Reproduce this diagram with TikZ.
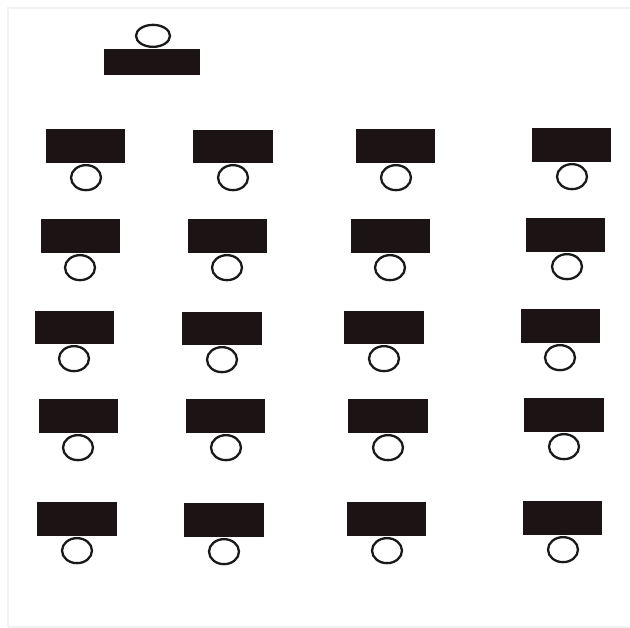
\documentclass[tikz,border=0pt]{standalone}
\usetikzlibrary{shapes.geometric}
\definecolor{deskcol}{RGB}{28,20,20}
\tikzset{
  desk/.style={rectangle, fill=deskcol, draw=none, inner sep=0pt},
  seat/.style={ellipse, draw=black!90, line width=2.3pt, fill=white, inner sep=0pt, minimum width=30pt, minimum height=25pt},
  frameline/.style={draw=black!5, line width=1.5pt}
}
\begin{document}
\begin{tikzpicture}[x=1pt,y=-1pt]
\useasboundingbox (0,0) rectangle (630,628);
\coordinate (c1) at (8,627);
\coordinate (c2) at (8,8);
\coordinate (c3) at (630,8);
\coordinate (c4) at (630,627);
\draw[frameline] (c1) -- (c2) -- (c3);
\draw[frameline] (c1) -- (c4);
% teacher
\node[desk, minimum width=96pt, minimum height=26pt] (teacher) at (152,62) {};
\node[seat, minimum width=34pt, minimum height=22pt, anchor=south] (tseat) at (153,48) {};
% students
\foreach \a/\b/\c/\d/\cx/\n in {
  46/125/129/163/86/11, 193/273/130/163/233/12, 356/435/129/163/396/13, 532/611/128/162/572/14,
  41/120/219/253/80/21, 188/267/219/253/227/22, 351/430/219/253/390/23, 526/605/218/252/567/24,
  35/114/311/344/74/31, 182/262/312/345/222/32, 344/424/311/344/384/33, 521/600/309/343/560/34,
  39/118/399/433/78/41, 186/265/399/433/226/42, 348/428/399/433/388/43, 524/604/398/432/564/44,
  37/117/502/536/77/51, 184/264/503/537/224/52, 347/426/502/536/387/53, 523/602/501/535/563/54}
{
  \node[desk, minimum width={(\b-\a)*1pt}, minimum height={(\d-\c)*1pt}] (desk\n) at ({(\a+\b)/2},{(\c+\d)/2}) {};
  \node[seat, anchor=north] (seat\n) at (\cx,\d+1) {};
}
\end{tikzpicture}
\end{document}
